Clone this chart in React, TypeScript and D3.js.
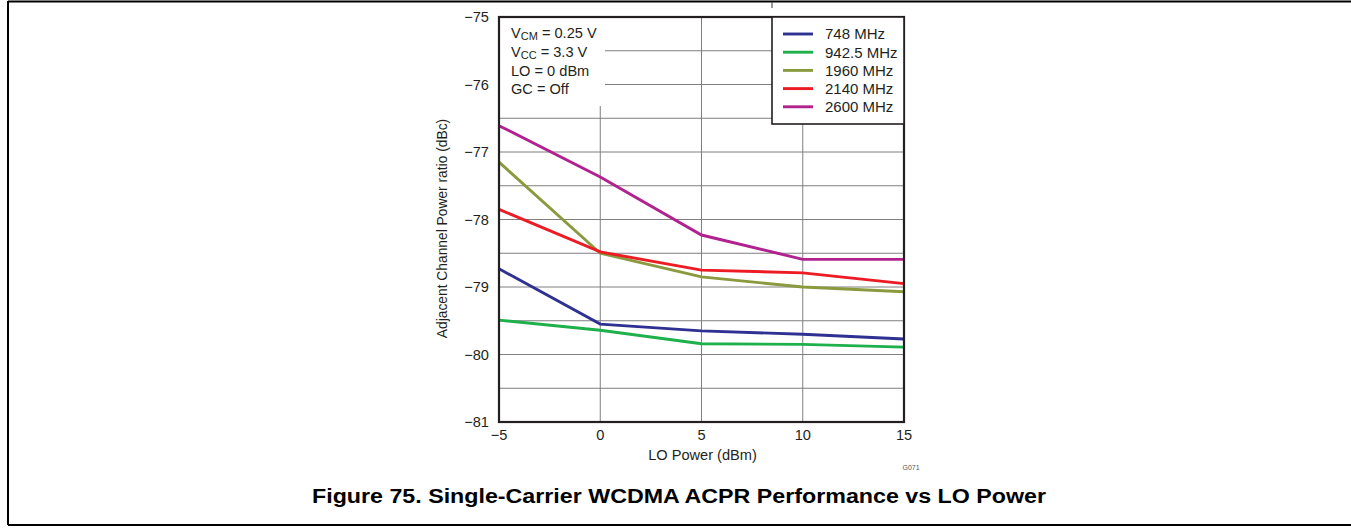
import React from "react";
import * as d3 from "d3";

const xValues = [-5, 0, 5, 10, 15];
const seriesNames = ["748 MHz", "942.5 MHz", "1960 MHz", "2140 MHz", "2600 MHz"];
const seriesColors = ["#2E3192", "#1DB04B", "#8A9A3E", "#ED1C24", "#B1228F"];
const s748 = [-78.73, -79.55, -79.65, -79.7, -79.77];
const s942 = [-79.49, -79.64, -79.84, -79.85, -79.89];
const s1960 = [-77.15, -78.5, -78.85, -79.0, -79.07];
const s2140 = [-77.85, -78.48, -78.75, -78.79, -78.95];
const s2600 = [-76.61, -77.37, -78.23, -78.59, -78.59];
const seriesValues = [s748, s942, s1960, s2140, s2600];
const xTicks = [-5, 0, 5, 10, 15];
const yTicks = [-75, -76, -77, -78, -79, -80, -81];
const yGrid = d3.range(-75.5, -80.9, -0.5);
const xGrid = [0, 5, 10];

export default function App() {
  const L = 499, R = 904, T = 17, B = 422;
  const x = d3.scaleLinear().domain([-5, 15]).range([L, R]);
  const y = d3.scaleLinear().domain([-75, -81]).range([T, B]);
  const line = d3.line<number>().x((_, i) => x(xValues[i])).y((v) => y(v));
  const font = "Arial, 'Liberation Sans', sans-serif";
  const txt = "#231F20";
  const annoR = 605, annoB = 106;
  const legX = 772, legY = T, legW = R - legX, legH = 107;
  const fs = 14.6;
  return (
    <svg width={1351} height={529} style={{ position: "absolute", left: 0, top: 0 }} fontFamily={font}>
      <rect x={0} y={0} width={1351} height={529} fill="#fff" />
      {/* page frame */}
      <line x1={8} y1={1.5} x2={1351} y2={1.5} stroke="#000" strokeWidth={2} />
      <line x1={8} y1={1} x2={8} y2={525} stroke="#000" strokeWidth={2} />
      <line x1={8} y1={525} x2={1351} y2={525} stroke="#000" strokeWidth={2} />
      <line x1={772} y1={2} x2={772} y2={8} stroke="#555" strokeWidth={1.2} />
      {/* grid */}
      {yGrid.map((v) => {
        const yy = y(v);
        const x1 = yy < annoB ? annoR : L;
        const x2 = yy < legY + legH ? legX : R;
        return <line key={"gy" + v} x1={x1} x2={x2} y1={yy} y2={yy} stroke="#7F7F7F" strokeWidth={1} />;
      })}
      {xGrid.map((v) => {
        const xx = x(v);
        const y1 = xx < annoR ? annoB : xx > legX ? legY + legH : T;
        return <line key={"gx" + v} x1={xx} x2={xx} y1={y1} y2={B} stroke="#7F7F7F" strokeWidth={1} />;
      })}
      {/* series */}
      {seriesValues.map((vals, i) => (
        <path key={"s" + i} d={line(vals) || ""} fill="none" stroke={seriesColors[i]} strokeWidth={2.9} />
      ))}
      {/* plot border */}
      <rect x={L} y={T} width={R - L} height={B - T} fill="none" stroke="#231F20" strokeWidth={2.2} />
      {/* legend */}
      <rect x={legX} y={legY} width={legW} height={legH} fill="#fff" stroke="#231F20" strokeWidth={1.6} />
      {seriesNames.map((n, i) => {
        const yy = legY + 17 + i * 18.2;
        return (
          <g key={"l" + i}>
            <line x1={783} x2={813} y1={yy} y2={yy} stroke={seriesColors[i]} strokeWidth={2.9} />
            <text x={825} y={yy} dy="0.36em" fontSize={15} fill={txt}>{n}</text>
          </g>
        );
      })}
      {/* annotation */}
      <g fontSize={fs} fill={txt}>
        <text x={511} y={38}>V<tspan fontSize={11} dy={2}>CM</tspan><tspan dy={-2}> = 0.25 V</tspan></text>
        <text x={511} y={57}>V<tspan fontSize={11} dy={2}>CC</tspan><tspan dy={-2}> = 3.3 V</tspan></text>
        <text x={511} y={75.5}>LO = 0 dBm</text>
        <text x={511} y={94}>GC = Off</text>
      </g>
      {/* y ticks */}
      {yTicks.map((v) => (
        <text key={"yt" + v} x={489} y={y(v)} dy="0.36em" textAnchor="end" fontSize={fs} fill={txt}>
          {"\u2212" + Math.abs(v)}
        </text>
      ))}
      {/* x ticks */}
      {xTicks.map((v) => (
        <text key={"xt" + v} x={x(v)} y={435} dy="0.36em" textAnchor="middle" fontSize={fs} fill={txt}>
          {v < 0 ? "\u2212" + Math.abs(v) : String(v)}
        </text>
      ))}
      <text x={(L + R) / 2 + 1} y={455} dy="0.36em" textAnchor="middle" fontSize={fs} fill={txt}>LO Power (dBm)</text>
      <text transform={`translate(442,228.5) rotate(-90)`} dy="0.36em" textAnchor="middle" fontSize={13.8} fill={txt}>
        Adjacent Channel Power ratio (dBc)
      </text>
      <text x={911} y={467} dy="0.36em" textAnchor="middle" fontSize={7} fill="#555">G071</text>
      <text x={679} y={496} dy="0.36em" textAnchor="middle" fontSize={20} fontWeight="bold" fill="#000" textLength={734} lengthAdjust="spacingAndGlyphs">
        Figure 75. Single-Carrier WCDMA ACPR Performance vs LO Power
      </text>
    </svg>
  );
}
